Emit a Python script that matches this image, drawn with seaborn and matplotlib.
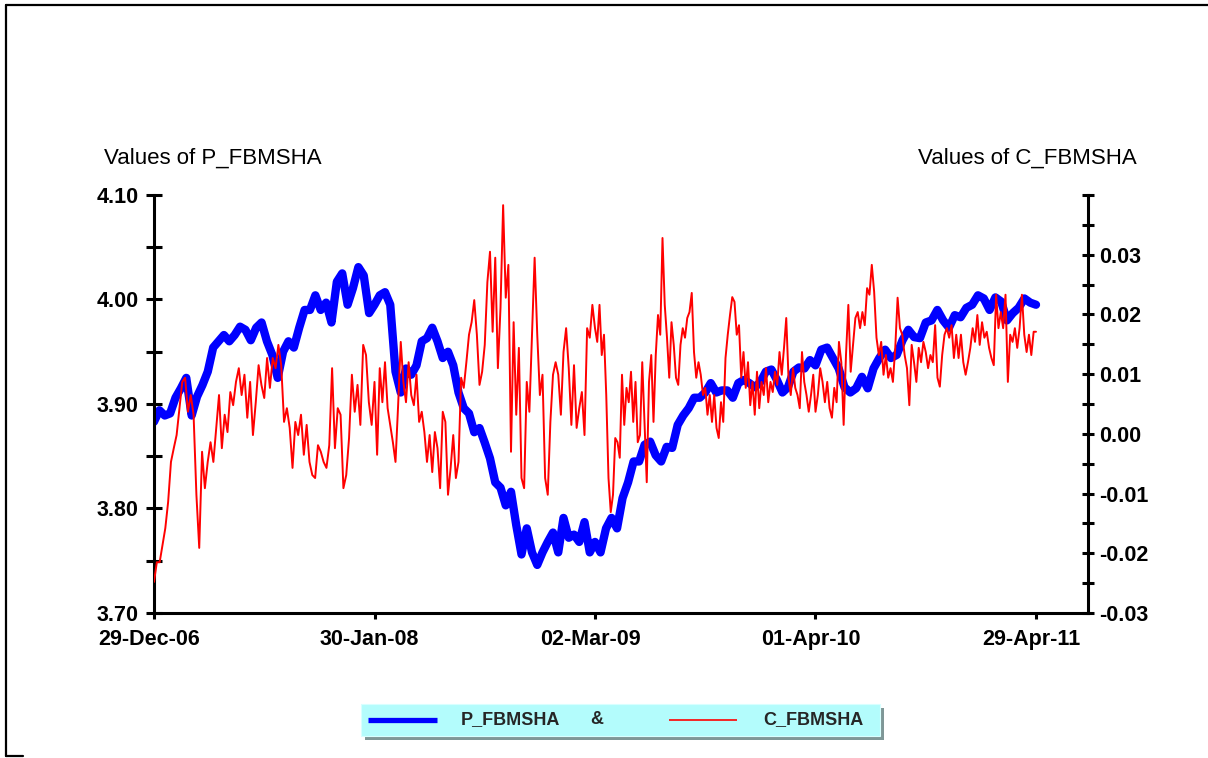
import numpy as np
import pandas as pd
import matplotlib
matplotlib.use("Agg")
import matplotlib.pyplot as plt
import matplotlib.transforms as mtransforms
from matplotlib.lines import Line2D
from matplotlib.patches import Rectangle
from matplotlib.ticker import FixedLocator, FormatStrFormatter, NullFormatter
import seaborn as sns

# ---- data -----------------------------------------------------------------
date_labels = ["29-Dec-06", "30-Jan-08", "02-Mar-09", "01-Apr-10", "29-Apr-11"]
label_days = [0, 282, 564, 846, 1128]          # trading-day index of each dated tick

# P_FBMSHA (left axis), one list per period between dated ticks
p_period1 = [3.883, 3.894, 3.889, 3.891, 3.906, 3.915, 3.925, 3.889, 3.907, 3.918,
             3.931, 3.954, 3.960, 3.966, 3.960, 3.966, 3.974, 3.971, 3.961, 3.973,
             3.978, 3.960, 3.947, 3.925, 3.950, 3.960, 3.954, 3.973, 3.990, 3.990,
             4.004, 3.990, 3.997, 3.978, 4.017, 4.025, 3.995, 4.011, 4.031, 4.023,
             3.987]
p_period2 = [3.995, 4.004, 4.007, 3.995, 3.931, 3.911, 3.934, 3.928, 3.937, 3.960,
             3.963, 3.973, 3.960, 3.944, 3.950, 3.937, 3.911, 3.896, 3.891, 3.873,
             3.877, 3.863, 3.848, 3.825, 3.820, 3.803, 3.816, 3.784, 3.756, 3.781,
             3.758, 3.746, 3.758, 3.768, 3.777, 3.758, 3.791, 3.772, 3.775, 3.768,
             3.787, 3.758]
p_period3 = [3.768, 3.758, 3.781, 3.791, 3.781, 3.810, 3.825, 3.845, 3.845, 3.861,
             3.864, 3.851, 3.845, 3.859, 3.858, 3.880, 3.889, 3.896, 3.906, 3.906,
             3.911, 3.920, 3.911, 3.913, 3.913, 3.906, 3.920, 3.923, 3.920, 3.916,
             3.921, 3.931, 3.933, 3.923, 3.911, 3.916, 3.931, 3.935, 3.934, 3.942]
p_period4 = [3.937, 3.952, 3.954, 3.944, 3.934, 3.916, 3.911, 3.915, 3.926, 3.915,
             3.934, 3.944, 3.952, 3.944, 3.947, 3.961, 3.971, 3.964, 3.963, 3.978,
             3.980, 3.990, 3.980, 3.973, 3.985, 3.983, 3.992, 3.995, 4.004, 4.001,
             3.990, 4.002, 3.998, 3.980, 3.987, 3.992, 4.001, 3.997, 3.995]

# C_FBMSHA (right axis)
c_period1 = [-0.0248, -0.0215, -0.0215, -0.0186, -0.0158, -0.0114, -0.0047, -0.0024, -0.0002, 0.0043,
             0.0087, 0.0094, 0.0037, 0.0065, 0.0032, -0.0102, -0.0191, -0.0030, -0.0091, -0.0047,
             -0.0014, -0.0047, 0.0010, 0.0065, -0.0024, 0.0032, 0.0003, 0.0070, 0.0048, 0.0087,
             0.0110, 0.0065, 0.0099, 0.0027, 0.0087, -0.0002, 0.0053, 0.0115, 0.0082, 0.0060,
             0.0127, 0.0077, 0.0127, 0.0110, 0.0149, 0.0115, 0.0020, 0.0043, 0.0010, -0.0057,
             0.0020, -0.0002, 0.0032, -0.0035, 0.0015, -0.0047, -0.0069, -0.0074, -0.0019, -0.0030,
             -0.0047, -0.0057, -0.0019, 0.0110, -0.0024, 0.0043, 0.0032, -0.0091, -0.0069, -0.0007,
             0.0099, 0.0037, 0.0082, 0.0015, 0.0149, 0.0132, 0.0053, 0.0015]
c_period2 = [0.0087, -0.0035, 0.0110, 0.0053, 0.0120, 0.0043, 0.0015, -0.0014, -0.0047, 0.0048,
             0.0154, 0.0087, 0.0053, 0.0120, 0.0065, 0.0048, 0.0099, 0.0020, 0.0037, 0.0003,
             -0.0047, -0.0002, -0.0064, 0.0003, -0.0024, -0.0091, 0.0037, 0.0020, -0.0102, -0.0057,
             -0.0002, -0.0074, -0.0047, 0.0094, 0.0077, 0.0120, 0.0166, 0.0187, 0.0224, 0.0166,
             0.0082, 0.0104, 0.0149, 0.0254, 0.0305, 0.0171, 0.0295, 0.0110, 0.0211, 0.0383,
             0.0228, 0.0283, -0.0030, 0.0187, 0.0032, 0.0144, -0.0074, -0.0091, 0.0087, 0.0037,
             0.0166, 0.0295, 0.0166, 0.0065, 0.0099, -0.0074, -0.0102, 0.0020, 0.0099, 0.0120,
             0.0099, 0.0032, 0.0137, 0.0177, 0.0110, 0.0015, 0.0115, 0.0010, 0.0043, 0.0070,
             -0.0002, 0.0177, 0.0161, 0.0216]
c_period3 = [0.0177, 0.0154, 0.0216, 0.0132, 0.0166, 0.0065, -0.0074, -0.0131, -0.0102, -0.0007,
             -0.0014, -0.0040, 0.0099, 0.0015, 0.0077, 0.0053, 0.0104, 0.0020, 0.0087, -0.0014,
             -0.0002, 0.0120, 0.0020, -0.0081, 0.0087, 0.0132, 0.0020, 0.0132, 0.0199, 0.0166,
             0.0328, 0.0216, 0.0161, 0.0094, 0.0187, 0.0149, 0.0094, 0.0082, 0.0149, 0.0177,
             0.0161, 0.0194, 0.0204, 0.0236, 0.0137, 0.0094, 0.0120, 0.0099, 0.0065, 0.0077,
             0.0032, 0.0065, 0.0020, 0.0065, 0.0010, -0.0007, 0.0053, 0.0020, 0.0127, 0.0166,
             0.0199, 0.0229, 0.0221, 0.0166, 0.0182, 0.0094, 0.0137, 0.0077, 0.0120, 0.0048,
             0.0087, 0.0032, 0.0104, 0.0043, 0.0087, 0.0065, 0.0110, 0.0053, 0.0087, 0.0070,
             0.0104, 0.0082, 0.0137, 0.0099, 0.0144, 0.0194, 0.0094, 0.0065, 0.0110, 0.0077,
             0.0065, 0.0043, 0.0137, 0.0087, 0.0065, 0.0037, 0.0065, 0.0099]
c_period4 = [0.0037, 0.0065, 0.0110, 0.0087, 0.0053, 0.0087, 0.0043, 0.0027, 0.0077, 0.0053,
             0.0154, 0.0120, 0.0015, 0.0132, 0.0216, 0.0104, 0.0149, 0.0194, 0.0204, 0.0177,
             0.0204, 0.0182, 0.0244, 0.0233, 0.0283, 0.0238, 0.0161, 0.0132, 0.0154, 0.0099,
             0.0132, 0.0094, 0.0110, 0.0087, 0.0144, 0.0228, 0.0177, 0.0166, 0.0132, 0.0110,
             0.0048, 0.0149, 0.0120, 0.0087, 0.0144, 0.0120, 0.0154, 0.0137, 0.0110, 0.0132,
             0.0120, 0.0182, 0.0094, 0.0079, 0.0132, 0.0166, 0.0177, 0.0161, 0.0182, 0.0127,
             0.0166, 0.0127, 0.0166, 0.0120, 0.0099, 0.0120, 0.0144, 0.0177, 0.0154, 0.0199,
             0.0149, 0.0187, 0.0161, 0.0171, 0.0144, 0.0127, 0.0115, 0.0233, 0.0177, 0.0204,
             0.0177, 0.0233, 0.0087, 0.0166, 0.0154, 0.0177, 0.0144, 0.0177, 0.0233, 0.0166,
             0.0137, 0.0166, 0.0132, 0.0171, 0.0171]

p_ticks = [3.70, 3.80, 3.90, 4.00, 4.10]
c_ticks = [-0.03, -0.02, -0.01, 0.00, 0.01, 0.02, 0.03]


def to_frame(periods):
    """Lay each period's observations out across its trading-day span."""
    days, vals = [], []
    for k, v in enumerate(periods):
        last = k == len(periods) - 1
        days.append(np.linspace(label_days[k], label_days[k + 1], len(v), endpoint=last))
        vals.append(np.asarray(v, dtype=float))
    return pd.DataFrame({"day": np.concatenate(days), "value": np.concatenate(vals)})


p_df = to_frame([p_period1, p_period2, p_period3, p_period4])
c_df = to_frame([c_period1, c_period2, c_period3, c_period4])

# ---- figure ---------------------------------------------------------------
sns.set_theme(style="ticks")
plt.rcParams["font.family"] = ["Liberation Sans", "DejaVu Sans"]
plt.rcParams["font.weight"] = "bold"

W, H = 1208, 758
fx = lambda px: px / W
fy = lambda py: 1 - py / H

fig = plt.figure(figsize=(W / 100, H / 100), dpi=100)
fig.patch.set_facecolor("white")
ax = fig.add_axes([fx(154), fy(613), fx(1088) - fx(154), fy(195) - fy(613)])
ax.set_facecolor("white")

sns.lineplot(data=p_df, x="day", y="value", ax=ax, color="#0000ff", linewidth=6,
             legend=False, solid_joinstyle="round", solid_capstyle="round")
ax2 = ax.twinx()
sns.lineplot(data=c_df, x="day", y="value", ax=ax2, color="#ff0000", linewidth=1.4,
             legend=False)

x_end = label_days[-1] * 934 / 882
ax.set_xlim(0, x_end)
ax.set_ylim(3.70, 4.10)
ax2.set_ylim(-0.03, 0.04)
for a in (ax, ax2):
    a.set_xlabel("")
    a.set_ylabel("")

spine_w = 2.2
for s in ("top", "right"):
    ax.spines[s].set_visible(False)
for s in ("left", "bottom"):
    ax.spines[s].set_linewidth(spine_w)
    ax.spines[s].set_color("black")
for s in ("top", "left", "bottom"):
    ax2.spines[s].set_visible(False)
ax2.spines["right"].set_linewidth(spine_w)
ax2.spines["right"].set_color("black")

# left axis ticks
ax.yaxis.set_major_locator(FixedLocator(p_ticks))
ax.yaxis.set_minor_locator(FixedLocator([3.75, 3.85, 3.95, 4.05]))
ax.yaxis.set_major_formatter(FormatStrFormatter("%.2f"))
ax.yaxis.set_minor_formatter(NullFormatter())
ax.tick_params(axis="y", which="both", direction="inout", length=12, width=spine_w,
               labelsize=15.5, pad=5, colors="black")

# right axis ticks
minor_c = [-0.025, -0.015, -0.005, 0.005, 0.015, 0.025, 0.035, 0.04]
ax2.yaxis.set_major_locator(FixedLocator(c_ticks))
ax2.yaxis.set_minor_locator(FixedLocator(minor_c))
ax2.yaxis.set_major_formatter(FormatStrFormatter("%.2f"))
ax2.yaxis.set_minor_formatter(NullFormatter())
ax2.tick_params(axis="y", which="both", direction="inout", length=8, width=spine_w,
                labelsize=15.5, pad=4, colors="black")

# date ticks
ax.set_xticks(label_days)
ax.set_xticklabels(date_labels)
ax.tick_params(axis="x", which="both", direction="out", length=4, width=spine_w,
               labelsize=15.5, pad=7.5, colors="black")
shift = mtransforms.ScaledTranslation(-5 / 100, 0, fig.dpi_scale_trans)
for lbl in ax.get_xticklabels():
    lbl.set_transform(lbl.get_transform() + shift)

# axis captions
fig.text(fx(104), fy(158), "Values of P_FBMSHA", fontsize=16, fontweight="normal",
         ha="left", va="center", color="black")
fig.text(fx(1137), fy(158), "Values of C_FBMSHA", fontsize=16, fontweight="normal",
         ha="right", va="center", color="black")

# legend panel
lx0, lx1, ly0, ly1 = 361, 880, 704, 736
fig.add_artist(Rectangle((fx(lx0 + 4), fy(ly1 + 4)), fx(lx1) - fx(lx0), fy(ly0) - fy(ly1),
                         transform=fig.transFigure, facecolor="#7f9797", edgecolor="none"))
fig.add_artist(Rectangle((fx(lx0), fy(ly1)), fx(lx1) - fx(lx0), fy(ly0) - fy(ly1),
                         transform=fig.transFigure, facecolor="#b3fcfc", edgecolor="#d8ffff",
                         linewidth=0.8))
ly = (ly0 + ly1) / 2
fig.add_artist(Line2D([fx(368), fx(437)], [fy(ly), fy(ly)], transform=fig.transFigure,
                      color="#0000ff", linewidth=3.8, solid_capstyle="butt"))
fig.add_artist(Line2D([fx(669), fx(737)], [fy(ly), fy(ly)], transform=fig.transFigure,
                      color="#ff0000", linewidth=1.2, solid_capstyle="butt"))
fig.text(fx(461), fy(ly), "P_FBMSHA", fontsize=13, fontweight="bold", ha="left", va="center")
fig.text(fx(597), fy(ly), "&", fontsize=13, fontweight="bold", ha="center", va="center")
fig.text(fx(763), fy(ly), "C_FBMSHA", fontsize=13, fontweight="bold", ha="left", va="center")

# outer frame
frame = dict(transform=fig.transFigure, color="black", linewidth=1.6)
fig.add_artist(Line2D([fx(6), 1.0], [fy(4.5), fy(4.5)], **frame))
fig.add_artist(Line2D([fx(6), fx(6)], [fy(4.5), fy(756)], **frame))
fig.add_artist(Line2D([fx(6), fx(23)], [fy(756), fy(756)], **frame))

fig.savefig("out.png", dpi=100, facecolor="white")
